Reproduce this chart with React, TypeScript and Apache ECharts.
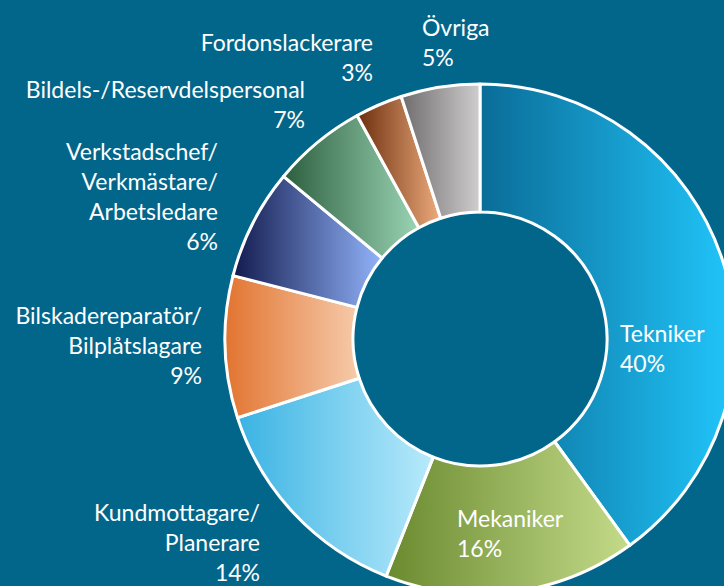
import React, { useEffect, useRef } from "react";
import * as echarts from "echarts";

const categories = [
  "Tekniker",
  "Mekaniker",
  "Kundmottagare/\nPlanerare",
  "Bilskadereparatör/\nBilplåtslagare",
  "Bildels-/Reservdelspersonal",
  "Verkstadschef/\nVerkmästare/\nArbetsledare",
  "Fordonslackerare",
  "Övriga",
];
const values = [40, 16, 14, 9, 7, 6, 3, 5];

const gradientStops: [string, string][] = [
  ["#0a6c97", "#21c6fb"],
  ["#6a8a2f", "#c4db8a"],
  ["#3ab3e3", "#b8eafb"],
  ["#e27430", "#f6cbab"],
  ["#121a4e", "#92b4fa"],
  ["#2c5e3e", "#9ad4b4"],
  ["#6c2e0e", "#eeac7c"],
  ["#6e6c6c", "#cfcdcd"],
];

// label anchor positions (x, y of block centre) and alignment
const labelAnchors: [number, number, "left" | "right"][] = [
  [620, 348, "left"],
  [457, 533, "left"],
  [260, 542, "right"],
  [202, 345, "right"],
  [305, 104, "right"],
  [218, 196, "right"],
  [373, 57, "right"],
  [422, 42, "left"],
];

export default function App() {
  const ref = useRef<HTMLDivElement>(null);
  useEffect(() => {
    if (!ref.current) return;
    const chart = echarts.init(ref.current, undefined, { renderer: "svg" });
    chart.setOption({
      animation: false,
      backgroundColor: "#02668b",
      series: [
        {
          type: "pie",
          center: [480, 339],
          radius: [127, 255],
          startAngle: 90,
          clockwise: true,
          avoidLabelOverlap: false,
          itemStyle: { borderColor: "#ffffff", borderWidth: 3 },
          label: {
            show: true,
            position: "outside",
            formatter: (p: any) => `${p.name}\n${p.value}%`,
            color: "#ffffff",
            fontFamily: "Lato, 'Open Sans', sans-serif",
            fontSize: 23,
            lineHeight: 30,
          },
          labelLine: { show: false },
          labelLayout: (params: any) => {
            const a = labelAnchors[params.dataIndex];
            return {
              x: a[0],
              y: a[1],
              align: a[2],
              verticalAlign: "middle",
            };
          },
          emphasis: { disabled: true },
          data: categories.map((name, i) => ({
            name,
            value: values[i],
            itemStyle: {
              color: new echarts.graphic.LinearGradient(0, 0, 1, 0, [
                { offset: 0, color: gradientStops[i][0] },
                { offset: 1, color: gradientStops[i][1] },
              ]),
            },
            label: { align: labelAnchors[i][2] },
          })),
        },
      ],
    });
    return () => chart.dispose();
  }, []);
  return (
    <div
      ref={ref}
      style={{ position: "fixed", left: 0, top: 0, width: 724, height: 586 }}
    />
  );
}
